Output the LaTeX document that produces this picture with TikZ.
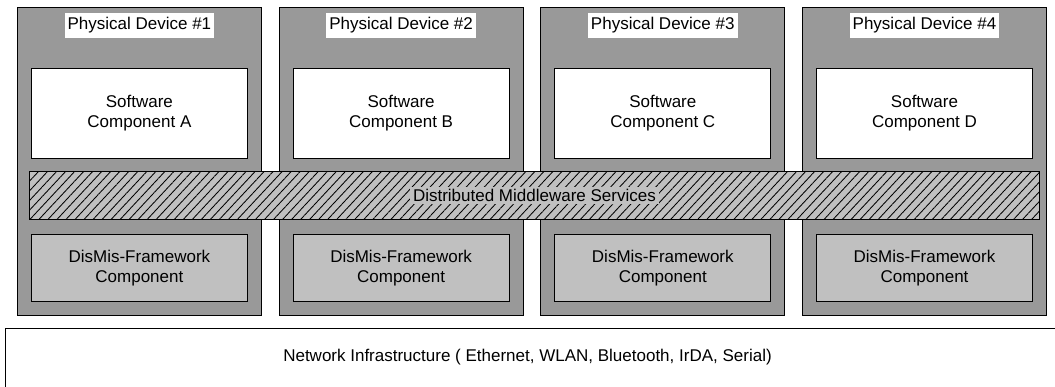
\documentclass[tikz,border=0pt]{standalone}
\usepackage{fontspec}
\setmainfont{Liberation Sans}
\usetikzlibrary{patterns.meta}
\definecolor{devgray}{HTML}{999999}
\definecolor{lightgray}{HTML}{C0C0C0}
\tikzset{
  device/.style={draw=black, line width=0.8pt, fill=devgray, anchor=north west,
    minimum width=244pt, minimum height=308pt, inner sep=0pt},
  devtitle/.style={fill=white, inner xsep=3pt, inner ysep=0pt, minimum height=25pt},
  swbox/.style={draw=black, line width=0.8pt, fill=white, anchor=north west,
    minimum width=216pt, minimum height=90pt, inner sep=0pt, align=center},
  fwbox/.style={draw=black, line width=0.8pt, fill=lightgray, anchor=north west,
    minimum width=216pt, minimum height=67pt, inner sep=0pt, align=center},
  band/.style={draw=black, line width=0.8pt, preaction={fill=lightgray},
    pattern={Lines[angle=47, distance=6.6pt, line width=0.85pt]},
    anchor=north west, minimum width=1010pt, minimum height=48pt, inner sep=0pt},
  bandtext/.style={fill=lightgray, inner xsep=3pt, inner ysep=2pt},
  netbox/.style={draw=black, line width=0.8pt, fill=white, anchor=north west,
    minimum width=1060pt, minimum height=80pt, inner sep=0pt},
}
\begin{document}
\begin{tikzpicture}[x=1pt, y=-1pt, font=\fontsize{17}{20}\selectfont]
\useasboundingbox (0,0) rectangle (1055,387);
\clip (0,0) rectangle (1055,387);

% physical devices with their components
\foreach \i/\l in {1/A, 2/B, 3/C, 4/D} {
  \pgfmathsetmacro{\xl}{17 + 261.7*(\i-1)}
  \node[device] (dev\i) at (\xl,7) {};
  \node[devtitle] (title\i) at ([yshift=-18.5pt]dev\i.north) {Physical Device \#\i};
  \node[swbox] (sw\i) at (\xl+14,68) {Software\\Component \l};
  \node[fwbox] (fw\i) at (\xl+14,234) {DisMis-Framework\\Component};
}

% middleware layer spanning all devices
\node[band] (mw) at (29,171) {};
\node[bandtext] (mwtext) at (mw.center) {Distributed Middleware Services};

% network underneath
\node[netbox] (net) at (5,328) {};
\node (nettext) at (527.5,357) {Network Infrastructure ( Ethernet, WLAN, Bluetooth, IrDA, Serial)};
\end{tikzpicture}
\end{document}
